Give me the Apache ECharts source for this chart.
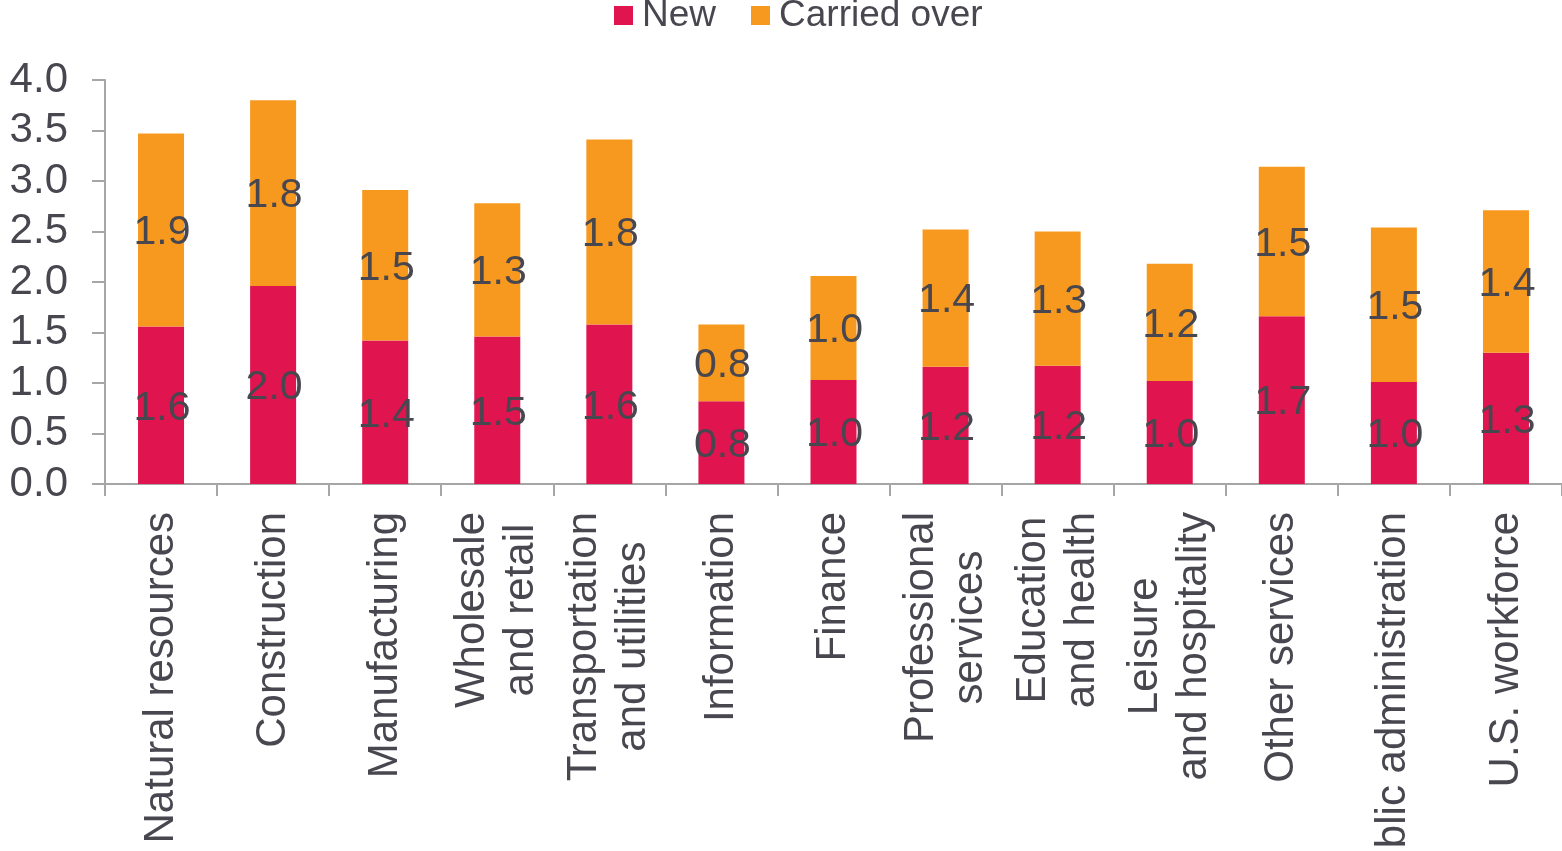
<!DOCTYPE html>
<html>
<head>
<meta charset="utf-8">
<script src="https://cdn.jsdelivr.net/npm/echarts@6/dist/echarts.min.js"></script>
<style>
html,body{margin:0;padding:0;background:#fff;}
#c{width:1562px;height:851px;}
</style>
</head>
<body>
<div id="c"></div>
<script>
const categories = [
  "Natural resources", "Construction", "Manufacturing", "Wholesale\nand retail",
  "Transportation\nand utilities", "Information", "Finance", "Professional\nservices",
  "Education\nand health", "Leisure\nand hospitality", "Other services",
  "Public administration", "U.S. workforce"
];
const newValues = [1.56, 1.96, 1.42, 1.46, 1.58, 0.82, 1.03, 1.16, 1.17, 1.02, 1.66, 1.01, 1.30];
const carriedValues = [1.91, 1.84, 1.49, 1.32, 1.83, 0.76, 1.03, 1.36, 1.33, 1.16, 1.48, 1.53, 1.41];
const yTicks = { min: 0, max: 4, interval: 0.5 };

const FONT = "'Liberation Sans', Arial, sans-serif";
const TXT = '#48474f';
const AX = '#a6a6a6';

const chart = echarts.init(document.getElementById('c'));
const labelCfg = {
  show: true, position: 'inside', offset: [1, 3], color: TXT, fontSize: 41, fontFamily: FONT,
  formatter: p => p.value.toFixed(1)
};
chart.setOption({
  animation: false,
  legend: {
    top: -3, left: 614, padding: 0, itemWidth: 19, itemHeight: 19, itemGap: 35,
    icon: 'rect',
    textStyle: { fontSize: 37, color: TXT, fontFamily: FONT, padding: [0, 0, 0, 4] },
    data: ['New', 'Carried over']
  },
  grid: { left: 105, right: 0, top: 80, bottom: 367, containLabel: false, outerBoundsMode: 'none' },
  xAxis: {
    type: 'category', data: categories,
    axisLine: { lineStyle: { color: AX, width: 2 } },
    axisTick: { show: true, length: 12, lineStyle: { color: AX, width: 2 } },
    axisLabel: {
      rotate: 90, interval: 0, margin: 28, fontSize: 42, color: TXT, fontFamily: FONT,
      lineHeight: 49, hideOverlap: false,
      formatter: v => v.split('\n').map(s => '{a|' + s + '}').join('\n'),
      rich: { a: { align: 'center', fontSize: 42, lineHeight: 49, color: TXT, fontFamily: FONT } }
    }
  },
  yAxis: {
    type: 'value', min: yTicks.min, max: yTicks.max, interval: yTicks.interval,
    splitLine: { show: false },
    axisLine: { show: true, lineStyle: { color: AX, width: 2 } },
    axisTick: { show: true, length: 13, lineStyle: { color: AX, width: 2 } },
    axisLabel: { margin: 37, fontSize: 42, color: TXT, fontFamily: FONT, formatter: v => v.toFixed(1) }
  },
  series: [
    { name: 'New', type: 'bar', stack: 's', barWidth: 46, data: newValues,
      itemStyle: { color: '#e0144f' }, label: labelCfg },
    { name: 'Carried over', type: 'bar', stack: 's', barWidth: 46, data: carriedValues,
      itemStyle: { color: '#f7991f' }, label: labelCfg }
  ]
});
</script>
</body>
</html>
